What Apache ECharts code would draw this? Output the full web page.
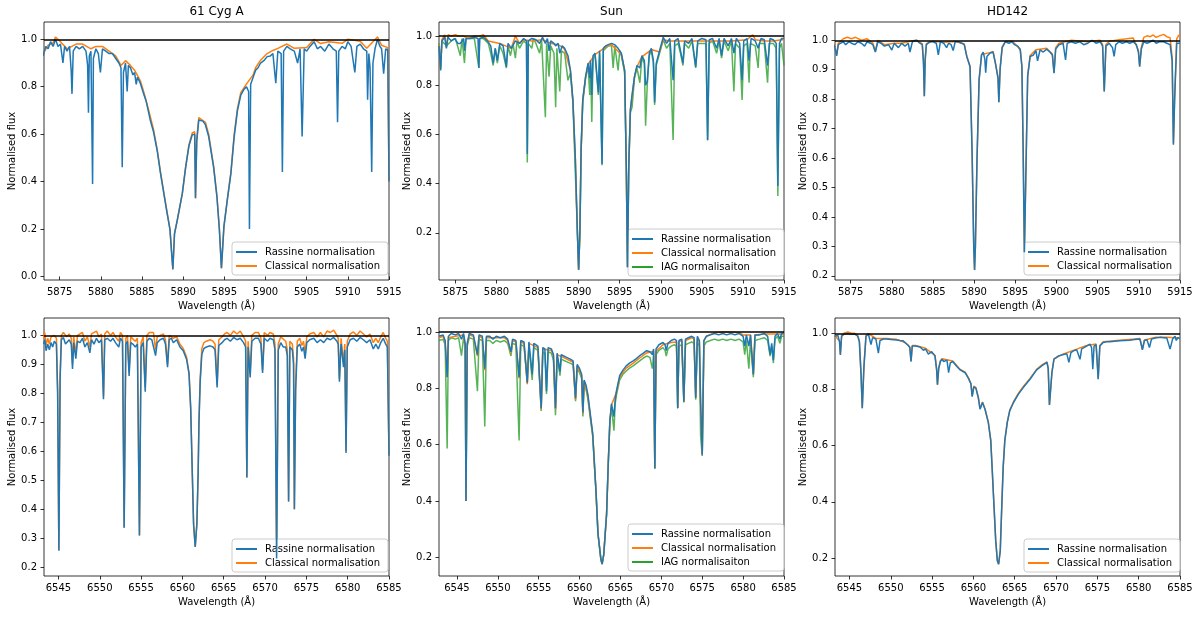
<!DOCTYPE html>
<html>
<head>
<meta charset="utf-8">
<script src="https://cdn.jsdelivr.net/npm/echarts@6/dist/echarts.min.js"></script>
<style>
  html, body { margin: 0; padding: 0; background: #fff; }
  #chart { width: 1200px; height: 617px; }
</style>
</head>
<body>
<div id="chart"></div>
<script>
// tick labels
const naTicks = [5875, 5880, 5885, 5890, 5895, 5900, 5905, 5910, 5915];
const haTicks = [6545, 6550, 6555, 6560, 6565, 6570, 6575, 6580, 6585];
const fluxTicksA = [0.0, 0.2, 0.4, 0.6, 0.8, 1.0];
const fluxTicksB = [0.2, 0.4, 0.6, 0.8, 1.0];
const fluxTicksC = [0.2, 0.3, 0.4, 0.5, 0.6, 0.7, 0.8, 0.9, 1.0];

// 61 Cyg A, Na D region
const cygNaRassine = [[5873.0,0.93],[5873.3,0.97],[5873.6,0.96],[5873.9,0.99],[5874.2,0.97],[5874.5,1.0],[5874.8,0.97],[5875.1,0.98],[5875.4,0.90],[5875.6,0.97],[5875.9,0.95],[5876.2,0.97],[5876.4,0.87],[5876.5,0.77],[5876.65,0.95],[5877.0,0.97],[5877.4,0.96],[5877.8,0.97],[5878.2,0.95],[5878.4,0.89],[5878.5,0.69],[5878.6,0.93],[5878.8,0.95],[5879.0,0.39],[5879.1,0.92],[5879.4,0.96],[5879.7,0.94],[5879.95,0.86],[5880.2,0.96],[5880.6,0.95],[5881.0,0.94],[5881.4,0.94],[5881.8,0.92],[5882.2,0.90],[5882.45,0.88],[5882.6,0.46],[5882.75,0.86],[5883.0,0.90],[5883.2,0.78],[5883.35,0.89],[5883.6,0.88],[5883.9,0.85],[5884.1,0.86],[5884.3,0.81],[5884.45,0.84],[5884.8,0.815],[5885.2,0.77],[5885.5,0.74],[5885.75,0.70],[5886.0,0.66],[5886.4,0.61],[5886.85,0.53],[5887.25,0.435],[5887.65,0.35],[5888.05,0.267],[5888.4,0.197],[5888.6,0.10],[5888.75,0.03],[5888.95,0.18],[5889.3,0.24],[5889.9,0.35],[5890.3,0.46],[5890.7,0.55],[5891.1,0.597],[5891.4,0.60],[5891.5,0.33],[5891.65,0.57],[5891.9,0.66],[5892.1,0.663],[5892.4,0.655],[5892.7,0.64],[5893.1,0.59],[5893.7,0.46],[5894.1,0.337],[5894.4,0.197],[5894.65,0.035],[5894.95,0.21],[5895.35,0.32],[5895.8,0.435],[5896.2,0.59],[5896.6,0.70],[5897.0,0.765],[5897.4,0.79],[5897.7,0.80],[5897.95,0.78],[5898.05,0.20],[5898.2,0.81],[5898.5,0.84],[5898.8,0.87],[5899.1,0.88],[5899.4,0.90],[5899.8,0.91],[5900.2,0.927],[5900.6,0.93],[5900.9,0.94],[5901.25,0.815],[5901.5,0.95],[5901.9,0.94],[5902.05,0.44],[5902.2,0.95],[5902.6,0.97],[5903.0,0.96],[5903.5,0.95],[5903.9,0.90],[5904.2,0.96],[5904.45,0.59],[5904.7,0.96],[5905.0,0.95],[5905.4,0.97],[5905.9,0.99],[5906.3,0.96],[5906.7,0.97],[5907.2,0.95],[5907.7,0.98],[5908.2,0.96],[5908.6,0.95],[5908.75,0.65],[5908.9,0.95],[5909.3,0.97],[5909.7,0.96],[5910.0,0.99],[5910.4,0.97],[5910.85,0.86],[5911.1,0.97],[5911.5,0.98],[5911.9,0.96],[5912.3,0.95],[5912.4,0.745],[5912.55,0.94],[5912.7,0.88],[5912.9,0.44],[5913.05,0.90],[5913.3,0.96],[5913.6,1.0],[5913.9,0.97],[5914.1,0.96],[5914.35,0.855],[5914.6,0.96],[5914.85,0.955],[5915.0,0.40]];
const cygNaClassical = [[5873.0,0.94],[5873.6,0.975],[5874.2,0.985],[5874.5,1.01],[5875.1,0.99],[5875.9,0.96],[5877.0,0.98],[5877.8,0.98],[5878.8,0.96],[5879.4,0.97],[5880.2,0.97],[5881.0,0.95],[5881.8,0.93],[5882.45,0.89],[5883.0,0.91],[5883.6,0.89],[5884.1,0.87],[5884.8,0.825],[5885.2,0.78],[5885.75,0.71],[5886.4,0.62],[5886.85,0.535],[5887.25,0.44],[5887.65,0.355],[5888.05,0.27],[5888.4,0.2],[5888.6,0.1],[5888.75,0.03],[5888.95,0.18],[5889.3,0.24],[5889.9,0.35],[5890.3,0.46],[5890.7,0.555],[5891.1,0.605],[5891.4,0.61],[5891.5,0.33],[5891.65,0.58],[5891.9,0.67],[5892.1,0.672],[5892.7,0.65],[5893.1,0.6],[5893.7,0.465],[5894.1,0.34],[5894.4,0.2],[5894.65,0.035],[5894.95,0.21],[5895.35,0.32],[5895.8,0.44],[5896.2,0.6],[5896.6,0.71],[5897.0,0.775],[5897.7,0.812],[5898.5,0.85],[5898.8,0.88],[5899.4,0.912],[5900.2,0.94],[5900.9,0.953],[5901.5,0.962],[5902.6,0.98],[5903.5,0.962],[5905.0,0.965],[5905.9,1.0],[5906.7,0.982],[5907.7,0.99],[5909.3,0.983],[5910.0,1.0],[5911.5,0.992],[5912.3,0.962],[5913.6,1.01],[5914.1,0.975],[5914.85,0.965],[5915.0,0.40]];

// Sun, Na D region
const sunNaRassine = [[5873.0,0.96],[5873.2,0.86],[5873.35,0.98],[5873.7,0.995],[5873.9,0.95],[5874.1,0.995],[5874.5,0.98],[5874.9,0.99],[5875.3,0.97],[5875.6,0.97],[5876.0,0.99],[5876.1,0.94],[5876.3,0.99],[5876.8,0.99],[5877.3,0.995],[5877.75,0.99],[5877.85,0.87],[5877.95,0.99],[5878.4,0.995],[5878.9,0.98],[5879.3,0.96],[5879.6,0.89],[5879.85,0.95],[5880.1,0.90],[5880.4,0.97],[5880.8,0.96],[5881.2,0.875],[5881.4,0.97],[5881.8,0.95],[5882.3,0.98],[5882.8,0.97],[5883.3,0.99],[5883.65,0.98],[5883.75,0.52],[5883.87,0.98],[5884.3,0.99],[5884.8,0.985],[5885.25,0.97],[5885.6,0.995],[5885.95,0.97],[5886.2,0.99],[5886.4,0.94],[5886.6,0.98],[5887.0,0.97],[5887.2,0.96],[5887.5,0.97],[5887.7,0.93],[5888.0,0.96],[5888.3,0.95],[5888.7,0.92],[5889.0,0.86],[5889.3,0.74],[5889.6,0.50],[5889.85,0.20],[5890.0,0.05],[5890.15,0.20],[5890.3,0.54],[5890.5,0.74],[5890.85,0.835],[5891.15,0.89],[5891.35,0.83],[5891.45,0.90],[5891.6,0.76],[5891.75,0.92],[5892.0,0.93],[5892.4,0.77],[5892.55,0.94],[5892.85,0.48],[5893.0,0.95],[5893.3,0.96],[5893.6,0.965],[5894.0,0.97],[5894.4,0.965],[5894.8,0.95],[5895.2,0.93],[5895.6,0.86],[5895.8,0.47],[5895.95,0.06],[5896.1,0.47],[5896.3,0.70],[5896.5,0.76],[5896.8,0.835],[5897.1,0.88],[5897.45,0.87],[5897.7,0.92],[5898.0,0.90],[5898.15,0.80],[5898.35,0.815],[5898.6,0.93],[5898.85,0.95],[5899.1,0.90],[5899.25,0.73],[5899.45,0.89],[5899.85,0.94],[5900.3,0.995],[5900.7,0.97],[5901.1,0.99],[5901.5,0.82],[5901.7,0.98],[5902.1,0.99],[5902.7,0.89],[5902.9,0.98],[5903.4,0.97],[5903.8,0.99],[5904.25,0.875],[5904.5,0.98],[5905.0,0.99],[5905.5,0.985],[5905.7,0.577],[5905.9,0.985],[5906.3,0.99],[5906.8,0.95],[5907.1,0.99],[5907.4,0.92],[5907.7,0.99],[5908.2,0.96],[5908.6,0.99],[5908.9,0.93],[5909.2,0.99],[5909.6,0.97],[5909.9,0.82],[5910.1,0.98],[5910.5,0.99],[5910.75,0.90],[5911.0,0.99],[5911.5,0.98],[5911.85,0.95],[5912.2,0.99],[5912.6,0.985],[5913.0,0.88],[5913.3,0.99],[5913.7,0.985],[5914.05,0.97],[5914.25,0.39],[5914.45,0.97],[5914.7,0.99],[5915.0,0.99]];
const sunNaClassical = [[5873.0,0.965],[5873.2,0.865],[5873.35,0.985],[5873.7,1.005],[5873.9,0.955],[5874.1,1.005],[5874.5,1.0],[5875.0,1.005],[5875.3,1.0],[5876.0,1.0],[5876.5,0.99],[5877.3,1.0],[5878.0,1.0],[5878.4,1.005],[5879.0,0.98],[5880.4,0.97],[5881.8,0.95],[5882.3,1.0],[5882.8,0.97],[5883.3,0.985],[5884.3,0.98],[5885.6,0.985],[5886.6,0.97],[5887.5,0.965],[5888.0,0.955],[5888.3,0.945],[5889.0,0.86],[5889.3,0.74],[5889.6,0.5],[5889.85,0.2],[5890.0,0.05],[5890.15,0.2],[5890.3,0.54],[5890.5,0.74],[5890.85,0.835],[5891.15,0.885],[5892.0,0.925],[5893.3,0.955],[5894.0,0.965],[5895.2,0.925],[5895.6,0.86],[5895.8,0.47],[5895.95,0.06],[5896.1,0.47],[5896.3,0.70],[5896.8,0.835],[5897.1,0.875],[5897.7,0.915],[5898.85,0.945],[5899.85,0.935],[5900.3,0.985],[5901.1,0.98],[5902.1,0.98],[5905.0,0.98],[5906.3,0.98],[5908.6,0.98],[5910.5,0.985],[5911.2,1.005],[5911.5,0.985],[5912.6,0.98],[5913.7,0.98],[5914.7,0.985],[5915.0,0.985]];
const sunNaIag = [[5873.0,0.97],[5873.2,0.87],[5873.35,0.98],[5873.9,0.96],[5874.5,0.98],[5875.0,0.99],[5875.6,0.92],[5875.8,0.99],[5876.1,0.89],[5876.3,0.99],[5876.8,0.99],[5877.3,0.99],[5877.85,0.87],[5877.95,0.99],[5878.4,0.99],[5879.0,0.97],[5879.3,0.93],[5879.6,0.88],[5879.85,0.95],[5880.1,0.89],[5880.4,0.96],[5880.8,0.93],[5881.2,0.87],[5881.4,0.96],[5881.7,0.92],[5882.0,0.97],[5882.3,0.91],[5882.5,0.98],[5882.8,0.95],[5883.3,0.98],[5883.65,0.97],[5883.75,0.486],[5883.87,0.97],[5884.3,0.95],[5884.5,0.99],[5884.8,0.97],[5885.25,0.93],[5885.5,0.98],[5885.95,0.67],[5886.1,0.97],[5886.4,0.835],[5886.6,0.96],[5887.0,0.93],[5887.2,0.71],[5887.35,0.95],[5887.7,0.775],[5887.9,0.94],[5888.3,0.93],[5888.7,0.82],[5889.0,0.85],[5889.3,0.73],[5889.6,0.44],[5889.85,0.20],[5890.0,0.05],[5890.15,0.2],[5890.3,0.53],[5890.5,0.73],[5890.85,0.83],[5891.15,0.88],[5891.35,0.76],[5891.45,0.89],[5891.6,0.65],[5891.75,0.91],[5892.0,0.92],[5892.4,0.76],[5892.55,0.93],[5892.85,0.475],[5893.0,0.94],[5893.3,0.95],[5893.6,0.96],[5894.0,0.96],[5894.2,0.87],[5894.4,0.96],[5894.8,0.86],[5895.0,0.94],[5895.2,0.92],[5895.6,0.85],[5895.8,0.46],[5895.95,0.06],[5896.1,0.46],[5896.3,0.69],[5896.5,0.71],[5896.8,0.83],[5897.1,0.87],[5897.45,0.81],[5897.7,0.91],[5898.0,0.89],[5898.15,0.635],[5898.35,0.8],[5898.6,0.92],[5898.85,0.94],[5899.1,0.89],[5899.25,0.72],[5899.45,0.88],[5899.85,0.93],[5900.3,0.985],[5900.7,0.95],[5901.1,0.97],[5901.5,0.577],[5901.7,0.96],[5902.1,0.97],[5902.4,0.93],[5902.7,0.88],[5902.9,0.97],[5903.4,0.95],[5903.8,0.98],[5904.25,0.87],[5904.5,0.97],[5905.0,0.97],[5905.5,0.97],[5905.7,0.575],[5905.9,0.97],[5906.3,0.98],[5906.8,0.93],[5907.1,0.98],[5907.4,0.91],[5907.7,0.98],[5908.2,0.94],[5908.6,0.98],[5908.9,0.775],[5909.1,0.97],[5909.6,0.95],[5909.9,0.74],[5910.1,0.96],[5910.5,0.97],[5910.75,0.81],[5910.9,0.97],[5911.5,0.96],[5911.85,0.87],[5912.0,0.97],[5912.6,0.97],[5913.0,0.81],[5913.2,0.97],[5913.7,0.97],[5914.05,0.95],[5914.25,0.35],[5914.45,0.95],[5914.7,0.97],[5915.0,0.88]];

// HD142, Na D region
const hdNaRassine = [[5873.0,0.985],[5873.15,0.99],[5873.3,0.947],[5873.5,0.985],[5873.8,0.99],[5874.1,0.995],[5874.4,0.985],[5874.8,0.995],[5875.1,0.99],[5875.5,0.985],[5875.9,0.995],[5876.3,0.99],[5876.7,0.98],[5877.0,0.995],[5877.4,0.99],[5877.7,0.985],[5878.0,0.96],[5878.3,0.995],[5878.7,0.99],[5879.1,0.98],[5879.6,0.985],[5880.0,0.967],[5880.3,0.99],[5880.8,0.975],[5881.2,0.99],[5881.6,0.98],[5882.0,0.99],[5882.2,0.96],[5882.5,0.995],[5883.0,1.0],[5883.4,0.99],[5883.7,0.985],[5883.85,0.92],[5883.95,0.81],[5884.05,0.93],[5884.2,0.985],[5884.6,0.995],[5885.0,0.995],[5885.4,0.99],[5885.65,0.95],[5885.9,0.995],[5886.3,0.99],[5886.65,0.975],[5886.9,0.99],[5887.2,0.985],[5887.45,0.965],[5887.7,0.995],[5888.1,0.995],[5888.5,0.99],[5888.8,0.985],[5889.1,0.945],[5889.5,0.91],[5889.75,0.62],[5889.95,0.3],[5890.05,0.22],[5890.15,0.3],[5890.35,0.6],[5890.6,0.865],[5890.9,0.95],[5891.1,0.96],[5891.3,0.935],[5891.4,0.89],[5891.55,0.945],[5891.9,0.956],[5892.3,0.96],[5892.6,0.92],[5892.9,0.87],[5893.0,0.79],[5893.15,0.9],[5893.4,0.975],[5893.8,0.995],[5894.2,0.99],[5894.6,0.995],[5894.9,0.985],[5895.3,0.98],[5895.6,0.967],[5895.8,0.91],[5895.95,0.63],[5896.1,0.28],[5896.25,0.5],[5896.5,0.877],[5896.8,0.945],[5897.2,0.95],[5897.5,0.965],[5897.7,0.93],[5898.0,0.967],[5898.4,0.96],[5898.8,0.97],[5899.2,0.96],[5899.5,0.95],[5899.7,0.888],[5899.9,0.97],[5900.3,0.985],[5900.8,0.99],[5901.1,0.933],[5901.3,0.99],[5901.8,0.995],[5902.3,0.99],[5902.8,0.995],[5903.3,0.985],[5903.8,0.99],[5904.3,1.0],[5904.8,0.99],[5905.3,0.995],[5905.6,0.98],[5905.8,0.826],[5906.0,0.98],[5906.4,0.99],[5906.8,0.975],[5907.0,0.945],[5907.2,0.985],[5907.6,0.995],[5908.0,0.99],[5908.5,0.995],[5908.9,0.99],[5909.3,0.995],[5909.7,0.985],[5909.95,0.96],[5910.1,0.91],[5910.3,0.97],[5910.6,0.995],[5911.0,0.99],[5911.4,0.995],[5911.75,1.0],[5912.1,0.99],[5912.5,0.995],[5913.0,0.995],[5913.4,0.99],[5913.8,0.985],[5914.05,0.93],[5914.2,0.645],[5914.35,0.8],[5914.6,0.99],[5914.8,0.995],[5915.0,0.99]];
const hdNaClassical = [[5873.0,0.99],[5873.15,0.995],[5873.3,0.95],[5873.5,0.99],[5874.1,1.005],[5874.6,1.01],[5875.1,1.005],[5875.6,1.01],[5876.3,1.0],[5877.0,1.005],[5877.7,0.99],[5878.0,0.962],[5878.3,1.0],[5879.1,0.985],[5880.3,0.99],[5881.2,0.99],[5882.5,0.998],[5883.0,1.0],[5883.7,0.988],[5883.85,0.93],[5883.95,0.81],[5884.05,0.94],[5884.2,0.988],[5885.0,0.997],[5886.3,0.993],[5887.7,0.996],[5888.8,0.987],[5889.1,0.947],[5889.5,0.912],[5889.75,0.62],[5889.95,0.3],[5890.05,0.22],[5890.15,0.3],[5890.35,0.6],[5890.6,0.867],[5890.9,0.952],[5891.9,0.958],[5892.3,0.962],[5892.9,0.875],[5893.0,0.79],[5893.15,0.905],[5893.4,0.977],[5893.8,0.997],[5894.6,0.997],[5895.6,0.97],[5895.8,0.912],[5895.95,0.63],[5896.1,0.28],[5896.25,0.5],[5896.5,0.88],[5896.8,0.948],[5897.5,0.968],[5898.8,0.973],[5899.5,0.953],[5899.7,0.89],[5899.9,0.975],[5900.3,0.99],[5901.8,1.0],[5903.8,0.995],[5905.3,1.0],[5905.6,0.985],[5905.8,0.826],[5906.0,0.985],[5906.4,0.997],[5907.6,1.002],[5908.5,1.005],[5909.3,1.008],[5909.95,0.965],[5910.1,0.912],[5910.3,0.975],[5910.6,1.01],[5911.0,1.015],[5911.4,1.012],[5911.75,1.018],[5912.1,1.01],[5912.5,1.015],[5913.0,1.02],[5913.4,1.012],[5913.8,1.008],[5914.05,0.94],[5914.2,0.65],[5914.35,0.81],[5914.6,1.005],[5914.8,1.015],[5915.0,1.02]];

// 61 Cyg A, H-alpha region
const cygHaRassine = [[6543.2,0.97],[6543.35,0.985],[6543.5,0.947],[6543.7,0.97],[6543.9,0.95],[6544.1,0.975],[6544.3,0.96],[6544.5,0.98],[6544.75,0.97],[6544.9,0.8],[6545.05,0.257],[6545.2,0.85],[6545.35,0.985],[6545.6,0.993],[6545.85,0.97],[6546.0,0.975],[6546.3,0.985],[6546.55,0.97],[6546.7,0.884],[6546.85,0.975],[6547.1,0.92],[6547.3,0.98],[6547.6,0.975],[6547.9,0.99],[6548.2,0.96],[6548.5,0.975],[6548.8,0.94],[6549.0,0.985],[6549.3,0.97],[6549.6,0.99],[6549.9,0.975],[6550.2,0.985],[6550.45,0.78],[6550.6,0.985],[6550.9,0.99],[6551.3,0.98],[6551.6,0.99],[6551.9,0.975],[6552.3,0.96],[6552.5,0.99],[6552.75,0.98],[6552.95,0.336],[6553.15,0.97],[6553.35,0.98],[6553.55,0.86],[6553.75,0.975],[6554.0,0.97],[6554.3,0.96],[6554.55,0.97],[6554.8,0.31],[6555.0,0.96],[6555.25,0.975],[6555.5,0.806],[6555.7,0.98],[6556.0,0.99],[6556.3,0.985],[6556.5,0.99],[6556.75,0.93],[6556.95,0.975],[6557.3,0.985],[6557.7,0.99],[6557.95,0.97],[6558.2,0.89],[6558.4,0.985],[6558.65,0.99],[6558.9,0.975],[6559.3,0.985],[6559.7,0.96],[6560.1,0.947],[6560.5,0.918],[6560.8,0.867],[6561.0,0.75],[6561.2,0.52],[6561.35,0.35],[6561.55,0.27],[6561.75,0.35],[6561.9,0.52],[6562.0,0.695],[6562.15,0.84],[6562.35,0.935],[6562.6,0.955],[6562.9,0.96],[6563.35,0.964],[6563.7,0.96],[6563.95,0.95],[6564.2,0.82],[6564.4,0.965],[6564.8,0.975],[6565.1,0.985],[6565.4,0.99],[6565.8,0.98],[6566.2,0.993],[6566.6,0.985],[6567.0,0.99],[6567.4,0.975],[6567.65,0.96],[6567.8,0.51],[6567.95,0.96],[6568.2,0.855],[6568.4,0.98],[6568.8,0.99],[6569.2,0.99],[6569.5,0.97],[6569.7,0.87],[6569.9,0.99],[6570.3,0.98],[6570.6,0.99],[6571.0,0.985],[6571.2,0.95],[6571.4,0.23],[6571.6,0.95],[6571.9,0.975],[6572.2,0.96],[6572.5,0.96],[6572.7,0.93],[6572.85,0.426],[6573.0,0.96],[6573.3,0.95],[6573.45,0.9],[6573.55,0.40],[6573.7,0.81],[6573.9,0.96],[6574.2,0.97],[6574.45,0.945],[6574.65,0.96],[6574.85,0.92],[6575.05,0.975],[6575.4,0.985],[6575.9,0.99],[6576.3,0.975],[6576.7,0.985],[6577.1,0.975],[6577.5,0.99],[6577.9,0.985],[6578.3,0.993],[6578.7,0.98],[6578.85,0.97],[6579.0,0.84],[6579.2,0.97],[6579.5,0.89],[6579.65,0.95],[6579.8,0.594],[6579.95,0.96],[6580.3,0.985],[6580.7,0.99],[6581.1,0.98],[6581.5,0.993],[6581.9,0.985],[6582.3,0.975],[6582.7,0.985],[6583.1,0.953],[6583.4,0.97],[6583.7,0.953],[6584.0,0.975],[6584.3,0.99],[6584.6,0.97],[6584.8,0.96],[6585.0,0.585]];
const cygHaClassical = [[6543.2,0.99],[6543.35,1.01],[6543.5,0.965],[6543.7,0.99],[6543.9,0.97],[6544.1,0.995],[6544.5,1.0],[6544.75,0.99],[6544.9,0.81],[6545.05,0.26],[6545.2,0.86],[6545.35,1.0],[6545.6,1.01],[6546.0,0.995],[6546.3,1.005],[6546.55,0.99],[6546.7,0.9],[6546.85,0.995],[6547.1,0.935],[6547.3,1.0],[6547.9,1.01],[6548.2,0.98],[6548.5,0.995],[6548.8,0.96],[6549.0,1.005],[6549.6,1.015],[6549.9,0.995],[6550.2,1.005],[6550.45,0.79],[6550.6,1.005],[6550.9,1.015],[6551.3,1.0],[6551.6,1.01],[6551.9,0.995],[6552.3,0.98],[6552.5,1.01],[6552.75,1.0],[6552.95,0.34],[6553.15,0.99],[6553.35,1.0],[6553.55,0.875],[6553.75,0.995],[6554.3,0.98],[6554.55,0.99],[6554.8,0.31],[6555.0,0.975],[6555.25,0.995],[6555.5,0.82],[6555.7,1.0],[6556.0,1.01],[6556.5,1.01],[6556.75,0.95],[6556.95,0.995],[6557.7,1.005],[6557.95,0.985],[6558.2,0.9],[6558.4,1.0],[6558.9,0.99],[6559.3,0.995],[6559.7,0.97],[6560.1,0.955],[6560.5,0.925],[6560.8,0.872],[6561.0,0.75],[6561.2,0.52],[6561.35,0.35],[6561.55,0.27],[6561.75,0.35],[6561.9,0.52],[6562.0,0.7],[6562.15,0.85],[6562.35,0.955],[6562.6,0.975],[6562.9,0.98],[6563.35,0.985],[6563.7,0.98],[6563.95,0.97],[6564.2,0.83],[6564.4,0.985],[6564.8,0.995],[6565.1,1.005],[6565.4,1.01],[6565.8,1.0],[6566.2,1.015],[6566.6,1.005],[6567.0,1.015],[6567.4,0.995],[6567.65,0.98],[6567.8,0.51],[6567.95,0.98],[6568.2,0.87],[6568.4,1.0],[6568.8,1.01],[6569.2,1.01],[6569.5,0.99],[6569.7,0.88],[6569.9,1.01],[6570.3,1.0],[6570.6,1.01],[6571.0,1.005],[6571.2,0.97],[6571.4,0.24],[6571.6,0.97],[6571.9,0.995],[6572.5,0.98],[6572.7,0.95],[6572.85,0.43],[6573.0,0.98],[6573.3,0.97],[6573.45,0.92],[6573.55,0.40],[6573.7,0.83],[6573.9,0.98],[6574.2,0.99],[6574.45,0.965],[6574.65,0.98],[6574.85,0.94],[6575.05,0.995],[6575.4,1.005],[6575.9,1.01],[6576.3,0.995],[6576.7,1.01],[6577.1,0.995],[6577.5,1.015],[6577.9,1.01],[6578.3,1.018],[6578.7,1.0],[6578.85,0.99],[6579.0,0.85],[6579.2,0.99],[6579.5,0.905],[6579.65,0.97],[6579.8,0.6],[6579.95,0.98],[6580.3,1.005],[6580.7,1.012],[6581.1,1.0],[6581.5,1.015],[6581.9,1.005],[6582.3,0.995],[6582.7,1.005],[6583.1,0.975],[6583.4,0.99],[6583.7,0.975],[6584.0,0.995],[6584.3,1.01],[6584.6,0.99],[6584.8,0.98],[6585.0,0.59]];

// Sun, H-alpha region
const sunHaRassine = [[6542.8,0.985],[6543.3,0.99],[6543.55,0.97],[6543.8,0.84],[6543.95,0.985],[6544.3,0.995],[6544.8,0.99],[6545.2,0.995],[6545.55,0.975],[6545.8,0.995],[6546.0,0.96],[6546.1,0.40],[6546.25,0.96],[6546.5,0.995],[6547.0,0.99],[6547.5,0.92],[6547.7,0.99],[6548.1,0.985],[6548.4,0.87],[6548.6,0.985],[6549.0,0.985],[6549.4,0.975],[6549.8,0.985],[6550.3,0.98],[6550.8,0.985],[6551.2,0.975],[6551.6,0.93],[6551.8,0.975],[6552.2,0.97],[6552.6,0.84],[6552.8,0.97],[6553.2,0.965],[6553.6,0.82],[6553.8,0.965],[6554.0,0.96],[6554.2,0.85],[6554.4,0.96],[6554.9,0.95],[6555.3,0.73],[6555.5,0.945],[6555.75,0.94],[6555.95,0.79],[6556.15,0.945],[6556.55,0.94],[6556.8,0.92],[6557.05,0.73],[6557.25,0.925],[6557.6,0.86],[6557.75,0.92],[6558.0,0.916],[6558.4,0.91],[6558.8,0.905],[6559.2,0.898],[6559.5,0.765],[6559.7,0.885],[6560.0,0.87],[6560.25,0.85],[6560.4,0.715],[6560.55,0.83],[6560.8,0.81],[6561.0,0.78],[6561.15,0.745],[6561.35,0.745],[6561.6,0.64],[6562.0,0.437],[6562.25,0.283],[6562.6,0.194],[6562.75,0.176],[6562.95,0.21],[6563.3,0.354],[6563.5,0.53],[6563.7,0.685],[6563.9,0.745],[6564.05,0.75],[6564.2,0.70],[6564.35,0.76],[6564.5,0.79],[6564.9,0.845],[6565.3,0.865],[6565.7,0.88],[6566.1,0.89],[6566.55,0.898],[6566.9,0.905],[6567.35,0.916],[6567.8,0.925],[6568.2,0.934],[6568.6,0.93],[6568.9,0.92],[6569.05,0.94],[6569.2,0.516],[6569.35,0.94],[6569.7,0.955],[6570.2,0.963],[6570.45,0.955],[6570.6,0.934],[6570.8,0.96],[6571.2,0.97],[6571.6,0.975],[6571.85,0.97],[6572.0,0.73],[6572.15,0.97],[6572.5,0.975],[6572.75,0.753],[6572.95,0.975],[6573.3,0.98],[6573.7,0.985],[6574.0,0.98],[6574.2,0.766],[6574.4,0.985],[6574.65,0.97],[6574.8,0.75],[6575.0,0.565],[6575.2,0.97],[6575.5,0.985],[6576.0,0.99],[6576.5,0.995],[6577.0,0.99],[6577.5,0.995],[6578.0,0.99],[6578.5,0.995],[6579.0,0.99],[6579.5,0.995],[6580.0,0.985],[6580.2,0.95],[6580.4,0.99],[6580.7,0.95],[6580.9,0.99],[6581.25,0.85],[6581.45,0.99],[6582.0,0.99],[6582.6,0.995],[6583.0,0.985],[6583.3,0.92],[6583.5,0.96],[6583.7,0.90],[6583.9,0.985],[6584.2,0.995],[6584.5,0.975],[6584.7,0.995],[6585.0,0.995]];
const sunHaClassical = [[6542.8,0.98],[6543.3,0.985],[6543.55,0.965],[6543.8,0.84],[6543.95,0.98],[6544.8,0.985],[6545.8,0.99],[6546.0,0.955],[6546.1,0.40],[6546.25,0.955],[6546.5,0.99],[6547.0,0.985],[6547.5,0.915],[6547.7,0.985],[6548.1,0.98],[6548.4,0.865],[6548.6,0.98],[6549.8,0.98],[6550.8,0.98],[6551.2,0.97],[6551.6,0.925],[6551.8,0.97],[6552.2,0.965],[6552.6,0.835],[6552.8,0.965],[6553.2,0.96],[6553.6,0.815],[6553.8,0.96],[6554.9,0.945],[6555.3,0.725],[6555.5,0.94],[6556.55,0.935],[6556.8,0.915],[6557.05,0.725],[6557.25,0.92],[6558.0,0.91],[6559.2,0.893],[6559.5,0.76],[6559.7,0.88],[6560.25,0.845],[6560.4,0.71],[6560.55,0.825],[6561.0,0.775],[6561.6,0.637],[6562.0,0.436],[6562.25,0.283],[6562.6,0.194],[6562.75,0.176],[6562.95,0.21],[6563.3,0.354],[6563.5,0.53],[6563.7,0.683],[6563.9,0.742],[6564.5,0.785],[6564.9,0.838],[6565.3,0.857],[6565.7,0.872],[6566.55,0.89],[6567.35,0.908],[6568.2,0.926],[6569.05,0.932],[6569.2,0.516],[6569.35,0.932],[6570.2,0.955],[6571.2,0.963],[6571.85,0.965],[6572.0,0.73],[6572.15,0.965],[6572.5,0.97],[6572.75,0.753],[6572.95,0.97],[6573.7,0.98],[6574.0,0.975],[6574.2,0.766],[6574.4,0.98],[6574.65,0.965],[6574.8,0.75],[6575.0,0.565],[6575.2,0.97],[6575.5,0.985],[6576.5,0.998],[6577.5,1.0],[6578.5,1.0],[6579.5,0.998],[6580.0,0.99],[6580.9,0.99],[6581.25,0.85],[6581.45,0.99],[6582.6,0.993],[6584.2,0.993],[6585.0,0.993]];
const sunHaIag = [[6542.8,0.97],[6543.3,0.975],[6543.55,0.955],[6543.8,0.587],[6543.95,0.97],[6544.3,0.98],[6544.8,0.975],[6545.2,0.98],[6545.55,0.916],[6545.8,0.98],[6546.0,0.95],[6546.1,0.40],[6546.25,0.95],[6546.5,0.98],[6547.0,0.975],[6547.5,0.79],[6547.7,0.975],[6548.1,0.97],[6548.4,0.665],[6548.6,0.97],[6549.0,0.97],[6549.4,0.96],[6549.8,0.97],[6550.3,0.965],[6550.8,0.97],[6551.2,0.96],[6551.6,0.915],[6551.8,0.96],[6552.2,0.955],[6552.6,0.615],[6552.8,0.955],[6553.2,0.95],[6553.6,0.82],[6553.8,0.95],[6554.0,0.945],[6554.2,0.83],[6554.4,0.945],[6554.9,0.935],[6555.3,0.72],[6555.5,0.93],[6555.75,0.925],[6555.95,0.78],[6556.15,0.93],[6556.55,0.925],[6556.8,0.9],[6557.05,0.705],[6557.25,0.91],[6557.6,0.845],[6557.75,0.905],[6558.0,0.9],[6558.4,0.895],[6558.8,0.89],[6559.2,0.885],[6559.5,0.755],[6559.7,0.87],[6560.0,0.855],[6560.25,0.835],[6560.4,0.70],[6560.55,0.815],[6560.8,0.795],[6561.0,0.765],[6561.15,0.73],[6561.35,0.735],[6561.6,0.63],[6562.0,0.435],[6562.25,0.283],[6562.6,0.194],[6562.75,0.176],[6562.95,0.21],[6563.3,0.354],[6563.5,0.53],[6563.7,0.68],[6563.9,0.735],[6564.05,0.74],[6564.2,0.65],[6564.35,0.745],[6564.5,0.775],[6564.9,0.83],[6565.3,0.85],[6565.7,0.862],[6566.1,0.872],[6566.55,0.88],[6566.9,0.888],[6567.35,0.898],[6567.8,0.908],[6568.2,0.915],[6568.6,0.91],[6568.9,0.87],[6569.05,0.92],[6569.2,0.516],[6569.35,0.92],[6569.7,0.935],[6570.2,0.945],[6570.45,0.935],[6570.6,0.915],[6570.8,0.94],[6571.2,0.95],[6571.6,0.955],[6571.85,0.95],[6572.0,0.73],[6572.15,0.95],[6572.5,0.955],[6572.75,0.75],[6572.95,0.955],[6573.3,0.96],[6573.7,0.965],[6574.0,0.96],[6574.2,0.76],[6574.4,0.965],[6574.65,0.95],[6574.8,0.63],[6575.0,0.56],[6575.2,0.95],[6575.5,0.965],[6576.0,0.97],[6576.5,0.975],[6577.0,0.97],[6577.5,0.975],[6578.0,0.97],[6578.5,0.975],[6579.0,0.97],[6579.5,0.975],[6580.0,0.965],[6580.2,0.92],[6580.4,0.97],[6580.7,0.87],[6580.9,0.97],[6581.25,0.84],[6581.45,0.97],[6582.0,0.975],[6582.6,0.98],[6583.0,0.97],[6583.3,0.915],[6583.5,0.95],[6583.7,0.89],[6583.9,0.975],[6584.2,0.985],[6584.5,0.96],[6584.7,0.985],[6585.0,0.985]];

// HD142, H-alpha region
const hdHaRassine = [[6543.2,0.99],[6543.6,0.993],[6543.8,0.97],[6543.9,0.923],[6544.05,0.99],[6544.4,0.998],[6544.8,1.0],[6545.2,0.997],[6545.6,0.998],[6546.0,0.99],[6546.2,0.97],[6546.4,0.855],[6546.55,0.734],[6546.75,0.88],[6547.0,0.99],[6547.3,0.997],[6547.6,0.96],[6547.8,0.985],[6548.2,0.98],[6548.5,0.93],[6548.7,0.975],[6549.1,0.98],[6549.5,0.98],[6550.0,0.978],[6550.7,0.977],[6551.1,0.975],[6551.5,0.974],[6551.8,0.965],[6552.1,0.958],[6552.3,0.95],[6552.45,0.9],[6552.6,0.955],[6553.0,0.955],[6553.55,0.952],[6553.95,0.94],[6554.2,0.945],[6554.55,0.926],[6554.95,0.935],[6555.35,0.92],[6555.55,0.87],[6555.65,0.817],[6555.8,0.875],[6556.0,0.9],[6556.2,0.908],[6556.4,0.9],[6556.6,0.895],[6556.8,0.905],[6557.0,0.86],[6557.2,0.895],[6557.5,0.9],[6558.0,0.882],[6558.4,0.87],[6559.0,0.86],[6559.4,0.84],[6559.7,0.82],[6559.85,0.775],[6560.05,0.81],[6560.3,0.805],[6560.6,0.77],[6560.8,0.73],[6561.1,0.754],[6561.4,0.73],[6561.8,0.683],[6562.1,0.618],[6562.3,0.50],[6562.5,0.38],[6562.7,0.262],[6562.9,0.19],[6563.05,0.178],[6563.25,0.226],[6563.4,0.357],[6563.6,0.523],[6563.8,0.618],[6564.1,0.683],[6564.4,0.725],[6564.85,0.754],[6565.45,0.784],[6566.05,0.808],[6566.85,0.837],[6567.65,0.87],[6568.3,0.885],[6568.9,0.897],[6569.05,0.875],[6569.2,0.745],[6569.5,0.86],[6569.75,0.908],[6570.3,0.92],[6570.9,0.925],[6571.3,0.928],[6571.55,0.897],[6571.8,0.932],[6572.1,0.938],[6572.5,0.942],[6572.9,0.908],[6573.1,0.945],[6573.3,0.95],[6573.7,0.955],[6574.1,0.962],[6574.3,0.95],[6574.45,0.873],[6574.6,0.955],[6574.85,0.96],[6575.1,0.837],[6575.3,0.955],[6575.7,0.968],[6576.1,0.97],[6576.5,0.97],[6577.1,0.972],[6577.7,0.974],[6578.3,0.975],[6578.9,0.976],[6579.5,0.978],[6580.15,0.98],[6580.45,0.942],[6580.7,0.975],[6581.0,0.978],[6581.3,0.95],[6581.55,0.98],[6582.0,0.984],[6582.6,0.986],[6583.0,0.985],[6583.4,0.984],[6583.8,0.944],[6584.1,0.98],[6584.4,0.99],[6584.55,0.975],[6584.75,0.985],[6585.0,0.982]];
const hdHaClassical = [[6543.2,0.993],[6543.8,0.973],[6543.9,0.925],[6544.05,0.993],[6544.4,1.002],[6544.8,1.005],[6545.2,1.002],[6545.6,1.001],[6546.0,0.993],[6546.2,0.973],[6546.4,0.857],[6546.55,0.734],[6546.75,0.883],[6547.0,0.993],[6547.3,0.999],[6548.2,0.982],[6549.5,0.982],[6550.7,0.979],[6551.8,0.967],[6552.3,0.952],[6552.45,0.9],[6552.6,0.957],[6553.0,0.957],[6554.2,0.947],[6555.35,0.922],[6555.55,0.872],[6555.65,0.817],[6555.8,0.877],[6556.0,0.902],[6556.2,0.91],[6557.5,0.902],[6558.4,0.872],[6559.0,0.862],[6559.4,0.842],[6559.7,0.822],[6559.85,0.777],[6560.05,0.812],[6560.3,0.807],[6560.6,0.772],[6560.8,0.732],[6561.1,0.756],[6561.4,0.732],[6561.8,0.685],[6562.1,0.62],[6562.3,0.50],[6562.5,0.38],[6562.7,0.262],[6562.9,0.19],[6563.05,0.178],[6563.25,0.226],[6563.4,0.357],[6563.6,0.523],[6563.8,0.62],[6564.1,0.685],[6564.4,0.727],[6564.85,0.756],[6565.45,0.787],[6566.05,0.811],[6566.85,0.84],[6567.65,0.872],[6568.3,0.888],[6568.9,0.899],[6569.05,0.877],[6569.2,0.745],[6569.5,0.862],[6569.75,0.91],[6570.9,0.927],[6572.5,0.944],[6573.7,0.957],[6574.85,0.962],[6575.1,0.84],[6575.3,0.957],[6575.7,0.97],[6577.7,0.976],[6579.5,0.98],[6580.15,0.982],[6580.45,0.944],[6580.7,0.977],[6582.0,0.986],[6583.4,0.986],[6585.0,0.984]];

const FONT = 'DejaVu Sans';
const C_RASSINE = '#1f77b4', C_CLASSICAL = '#ff7f0e', C_IAG = '#2ca02c';
const N_RASSINE = 'Rassine normalisation', N_CLASSICAL = 'Classical normalisation', N_IAG = 'IAG normalisaiton';

const panels = [
  { title: '61 Cyg A', left: 44, top: 22, x: [5873.1, 5915], xt: naTicks, y: [-0.015, 1.073], yt: fluxTicksA,
    rassine: cygNaRassine, classical: cygNaClassical, lg: [232, 242] },
  { title: 'Sun', left: 439, top: 22, x: [5873.0, 5915], xt: naTicks, y: [0.008, 1.057], yt: fluxTicksB,
    rassine: sunNaRassine, classical: sunNaClassical, iag: sunNaIag, lg: [628, 229] },
  { title: 'HD142', left: 835, top: 22, x: [5873.1, 5915], xt: naTicks, y: [0.186, 1.062], yt: fluxTicksC,
    rassine: hdNaRassine, classical: hdNaClassical, lg: [1024, 242] },
  { left: 44, top: 318, x: [6543.25, 6585], xt: haTicks, y: [0.17, 1.06], yt: fluxTicksC,
    rassine: cygHaRassine, classical: cygHaClassical, lg: [232, 539] },
  { left: 439, top: 318, x: [6542.8, 6585], xt: haTicks, y: [0.134, 1.05], yt: fluxTicksB,
    rassine: sunHaRassine, classical: sunHaClassical, iag: sunHaIag, lg: [628, 524] },
  { left: 835, top: 318, x: [6543.25, 6585], xt: haTicks, y: [0.136, 1.055], yt: fluxTicksB,
    rassine: hdHaRassine, classical: hdHaClassical, lg: [1024, 539] }
];

const W = 345, H = 258;
const grids = [], xAxes = [], yAxes = [], series = [], legends = [], texts = [];

panels.forEach((p, i) => {
  grids.push({ left: p.left, top: p.top, width: W, height: H, show: true,
    borderColor: '#000', borderWidth: 0.8, backgroundColor: 'transparent' });
  const tickStyle = { show: true, length: 3.5, inside: false, lineStyle: { color: '#000', width: 0.8 } };
  xAxes.push({ gridIndex: i, type: 'value', min: p.x[0], max: p.x[1],
    name: 'Wavelength (Å)', nameLocation: 'middle', nameGap: 21,
    nameTextStyle: { fontFamily: FONT, fontSize: 10, color: '#000' },
    axisLine: { show: false },
    axisTick: Object.assign({ customValues: p.xt }, tickStyle),
    axisLabel: { customValues: p.xt, showMinLabel: true, showMaxLabel: true, margin: 7,
      fontFamily: FONT, fontSize: 10, color: '#000', formatter: v => String(Math.round(v)) },
    splitLine: { show: false } });
  yAxes.push({ gridIndex: i, type: 'value', min: p.y[0], max: p.y[1],
    name: 'Normalised flux', nameLocation: 'middle', nameGap: 26, nameRotate: 90,
    nameTextStyle: { fontFamily: FONT, fontSize: 10, color: '#000' },
    axisLine: { show: false },
    axisTick: Object.assign({ customValues: p.yt }, tickStyle),
    axisLabel: { customValues: p.yt, showMinLabel: true, showMaxLabel: true, margin: 7,
      fontFamily: FONT, fontSize: 10, color: '#000', formatter: v => v.toFixed(1) },
    splitLine: { show: false } });

  const base = { type: 'line', xAxisIndex: i, yAxisIndex: i, showSymbol: false, symbol: 'none',
    animation: false, clip: true, silent: true };
  if (p.iag) {
    series.push(Object.assign({}, base, { name: N_IAG, data: p.iag, z: 2,
      lineStyle: { color: C_IAG, width: 1.5, opacity: 0.8 }, itemStyle: { color: C_IAG } }));
  }
  series.push(Object.assign({}, base, { name: N_CLASSICAL, data: p.classical, z: 3,
    lineStyle: { color: C_CLASSICAL, width: 1.5 }, itemStyle: { color: C_CLASSICAL } }));
  series.push(Object.assign({}, base, { name: N_RASSINE, data: p.rassine, z: 4,
    lineStyle: { color: C_RASSINE, width: 1.5 }, itemStyle: { color: C_RASSINE },
    markLine: { silent: true, symbol: ['none', 'none'], label: { show: false },
      lineStyle: { color: '#000', width: 1.5, type: 'solid' }, data: [{ yAxis: 1.0 }] } }));

  legends.push({ left: p.lg[0], top: p.lg[1], orient: 'vertical',
    data: p.iag ? [N_RASSINE, N_CLASSICAL, N_IAG] : [N_RASSINE, N_CLASSICAL],
    icon: 'rect', itemWidth: 21, itemHeight: 2, itemGap: 4, selectedMode: false,
    textStyle: { fontFamily: FONT, fontSize: 10, color: '#000', padding: [0, 0, 0, 3] },
    borderColor: '#ccc', borderWidth: 1, borderRadius: 3, padding: [5, 8, 4, 4],
    backgroundColor: 'rgba(255,255,255,0.8)' });

  if (p.title) {
    texts.push({ type: 'text', x: p.left + W / 2, y: 12, z: 10,
      style: { text: p.title, align: 'center', verticalAlign: 'middle',
        fontFamily: FONT, fontSize: 12, fill: '#000' } });
  }
});

const chart = echarts.init(document.getElementById('chart'), null, { renderer: 'canvas' });
chart.setOption({
  backgroundColor: '#fff',
  animation: false,
  grid: grids,
  xAxis: xAxes,
  yAxis: yAxes,
  legend: legends,
  series: series,
  graphic: texts
});
</script>
</body>
</html>
